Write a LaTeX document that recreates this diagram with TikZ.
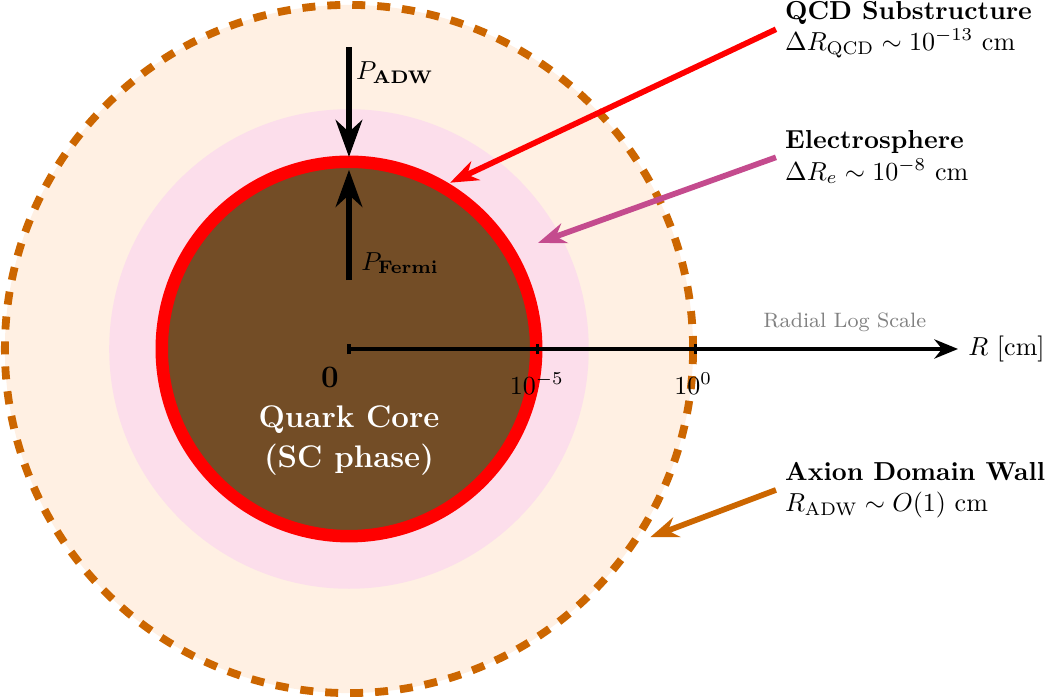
\documentclass[tikz,border=0pt]{standalone}
\usepackage{amsmath,amssymb}
\usepackage{xcolor}
\definecolor{cream}{HTML}{FFF0E3}
\definecolor{blush}{HTML}{FCDEEB}
\definecolor{corebrown}{HTML}{734D26}
\definecolor{wallorange}{HTML}{CC6600}
\definecolor{electro}{HTML}{C44B8E}
\usepackage{tikz}
\usetikzlibrary{arrows.meta,positioning,calc}
\tikzset{
  >={Stealth[length=3.8mm,width=2.8mm]},
  lbl/.style    ={anchor=west,align=left,font=\normalsize},
  pointer/.style={->,line width=2.2pt},
  press/.style  ={-{Stealth[length=5mm,width=3.6mm]},line width=2pt,draw=black},
  axis/.style   ={-{Stealth[length=3.2mm,width=2.6mm]},line width=1.3pt},
  tickmark/.style={line width=1.3pt},
  ticklbl/.style={font=\normalsize},
}

\begin{document}
\begin{tikzpicture}
\useasboundingbox (-4.716,-4.743) rectangle (9.419,4.716);
% layers, outside in
\fill[cream] (0,0) circle (4.65);
\draw[wallorange,line width=3pt,dash pattern=on 5pt off 4.6pt] (0,0) circle (4.65);
\fill[blush] (0,0) circle (3.24);
\fill[corebrown] (0,0) circle (2.53);
\draw[red,line width=4.8pt] (0,0) circle (2.53);
% radial axis
\coordinate (o) at (0,0);
\coordinate (rend) at (8.23,0);
\draw[axis] (o) -- (rend) node[right] (runit) {$R$ [cm]};
\foreach \r in {0,2.55,4.68}
  {\draw[tickmark] (\r,-0.07) -- (\r,0.07);}
\node[ticklbl,font=\large] (t0) at (-0.257,-0.39) {$\mathbf{0}$};
\node[ticklbl] (t5) at (2.54,-0.47) {$10^{-5}$};
\node[ticklbl] (t1) at (4.65,-0.47) {$10^{0}$};
\node[font=\footnotesize,text=gray] (scale) at (6.70,0.365) {Radial Log Scale};
% core
\node[font=\large\bfseries,text=white,align=center] (core) at (0,-1.24) {Quark Core\\[1.5pt](SC phase)};
% pressure balance
\coordinate (adwtop) at (0,4.08);
\coordinate (adwtip) at (0,2.595);
\draw[press] (adwtop) -- (adwtip);
\node (padw) at (0.62,3.74) {$P_{\mathbf{ADW}}$};
\coordinate (fermibot) at (0,0.93);
\coordinate (fermitip) at (0,2.42);
\draw[press] (fermibot) -- (fermitip);
\node (pfermi) at (0.69,1.16) {$P_{\mathbf{Fermi}}$};
% side labels
\node[lbl] (qcd) at (5.77,4.32) {\textbf{QCD Substructure}\\$\Delta R_{\text{QCD}} \sim 10^{-13}$ cm};
\node[lbl] (elec) at (5.77,2.59) {\textbf{Electrosphere}\\$\Delta R_e \sim 10^{-8}$ cm};
\node[lbl] (adw) at (5.77,-1.905) {\textbf{Axion Domain Wall}\\$R_{\text{ADW}} \sim O(1)$ cm};
\coordinate (qcdtip) at (58.7:2.63);
\coordinate (electip) at (29.3:2.93);
\coordinate (adwtip2) at (-32:4.80);
\draw[pointer,red] (qcd.west) -- (qcdtip);
\draw[pointer,electro] (elec.west) -- (electip);
\draw[pointer,wallorange] (adw.west) -- (adwtip2);
\end{tikzpicture}
\end{document}
